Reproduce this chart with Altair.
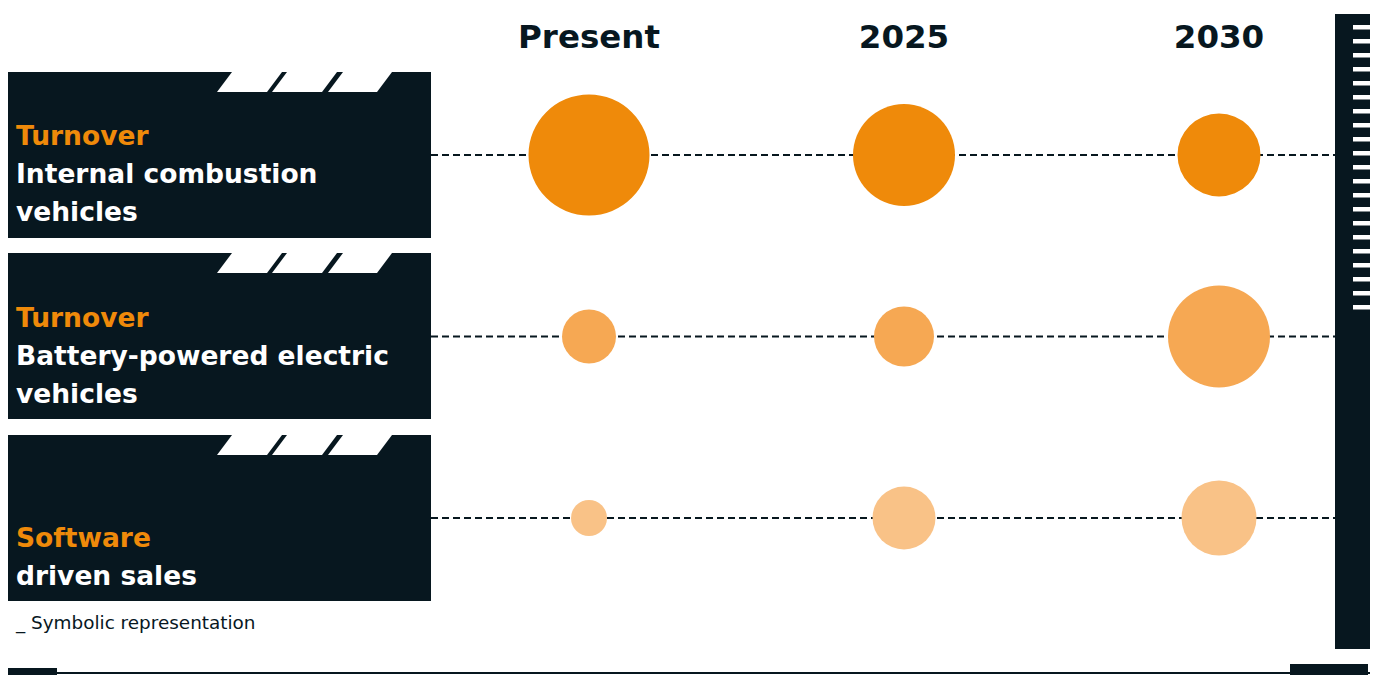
import altair as alt
import pandas as pd

# ---- data ----
periods = ["Present", "2025", "2030"]
segments = ["Internal combustion vehicles", "Battery-powered electric vehicles", "Software driven sales"]
# symbolic bubble sizes (read as relative diameters)
ice_values = [121, 102, 83]
bev_values = [54, 60, 102]
sw_values = [36, 63, 75]
segment_colors = ["#EF8A0A", "#F6A853", "#F9C287"]
label_lines = [
    [("Turnover", "accent"), ("Internal combustion", "main"), ("vehicles", "main")],
    [("Turnover", "accent"), ("Battery-powered electric", "main"), ("vehicles", "main")],
    [("Software", "accent"), ("driven sales", "main")],
]
footnote = "_ Symbolic representation"

DARK = "#07171F"
ORANGE = "#EF8A0A"
FONT = "DejaVu Sans"

rows = []
for seg, vals in zip(segments, [ice_values, bev_values, sw_values]):
    for p, v in zip(periods, vals):
        rows.append({"segment": seg, "period": p, "value": v})
df = pd.DataFrame(rows)
seg_df = pd.DataFrame({"segment": segments})
per_df = pd.DataFrame({"period": periods})
one = pd.DataFrame({"a": [0]})

x_scale = alt.Scale(type="point", domain=periods, range=[589, 1219], padding=0)
y_scale = alt.Scale(type="point", domain=segments, range=[155, 518], padding=0)

layers = []

# dashed guide lines
layers.append(
    alt.Chart(seg_df).mark_rule(color=DARK, strokeWidth=2, strokeDash=[7, 4]).encode(
        y=alt.Y("segment:N", scale=y_scale, axis=None),
        x=alt.value(431), x2=alt.value(1335),
    )
)

# label panels
panel_tops = [72, 253, 435]
for top in panel_tops:
    layers.append(
        alt.Chart(one).mark_rect(color=DARK).encode(
            x=alt.value(8), x2=alt.value(431), y=alt.value(top), y2=alt.value(top + 166)
        )
    )

# white notches (parallelograms) on top of each panel
notch_bottoms = [(217, 267), (272, 322), (328, 377)]
slant = 15
path = ""
for top in panel_tops:
    for xb0, xb1 in notch_bottoms:
        path += (f"M{xb0},{top + 20}L{xb0 + slant},{top}L{xb1 + slant},{top}L{xb1},{top + 20}Z")
layers.append(
    alt.Chart(one).mark_point(shape=path, filled=True, fill="white", strokeWidth=0, opacity=1, size=4).encode(
        x=alt.value(0), y=alt.value(0)
    )
)

# bubbles
layers.append(
    alt.Chart(df).mark_circle(opacity=1).encode(
        x=alt.X("period:N", scale=x_scale, axis=None),
        y=alt.Y("segment:N", scale=y_scale, axis=None),
        size=alt.Size("value:Q", scale=alt.Scale(type="pow", exponent=2, domain=[0, 121], range=[0, 14641]), legend=None),
        color=alt.Color("segment:N", scale=alt.Scale(domain=segments, range=segment_colors), legend=None),
    )
)

# column headers
layers.append(
    alt.Chart(per_df).mark_text(font=FONT, fontSize=32.5, fontWeight="bold", color=DARK, baseline="alphabetic", align="center").encode(
        x=alt.X("period:N", scale=x_scale, axis=None),
        y=alt.value(48),
        text="period:N",
    )
)

# panel labels
baselines = [[145, 183, 221], [327, 365, 403], [547, 585]]
for lines, bls in zip(label_lines, baselines):
    for (txt, kind), bl in zip(lines, bls):
        layers.append(
            alt.Chart(one).mark_text(
                text=txt, font=FONT, fontSize=26.5, fontWeight="bold",
                color=ORANGE if kind == "accent" else "white",
                align="left", baseline="alphabetic",
            ).encode(x=alt.value(16), y=alt.value(bl))
        )

# footnote
layers.append(
    alt.Chart(one).mark_text(text=footnote, font=FONT, fontSize=18.4, color=DARK, align="left", baseline="alphabetic").encode(
        x=alt.value(16), y=alt.value(629)
    )
)

# right vertical bar with stripes
layers.append(
    alt.Chart(one).mark_rect(color=DARK).encode(
        x=alt.value(1335), x2=alt.value(1370), y=alt.value(14), y2=alt.value(649)
    )
)
layers.append(
    alt.Chart(one).mark_rule(color="white", strokeWidth=17, strokeDash=[4.5, 9.5], strokeCap="butt").encode(
        x=alt.value(1361.5), y=alt.value(25), y2=alt.value(310)
    )
)

# bottom line with end blocks
layers.append(
    alt.Chart(one).mark_rule(color=DARK, strokeWidth=2).encode(
        x=alt.value(8), x2=alt.value(1370), y=alt.value(673)
    )
)
layers.append(
    alt.Chart(one).mark_rect(color=DARK).encode(
        x=alt.value(8), x2=alt.value(57), y=alt.value(668), y2=alt.value(675)
    )
)
layers.append(
    alt.Chart(one).mark_rect(color=DARK).encode(
        x=alt.value(1290), x2=alt.value(1368), y=alt.value(664), y2=alt.value(675)
    )
)

chart = alt.layer(*layers).properties(
    width=1381, height=675, autosize=alt.AutoSizeParams(type="none"), padding=0, background="white"
).configure_view(stroke=None)

chart.save("out.html", embed_options={"renderer": "svg", "actions": False})
